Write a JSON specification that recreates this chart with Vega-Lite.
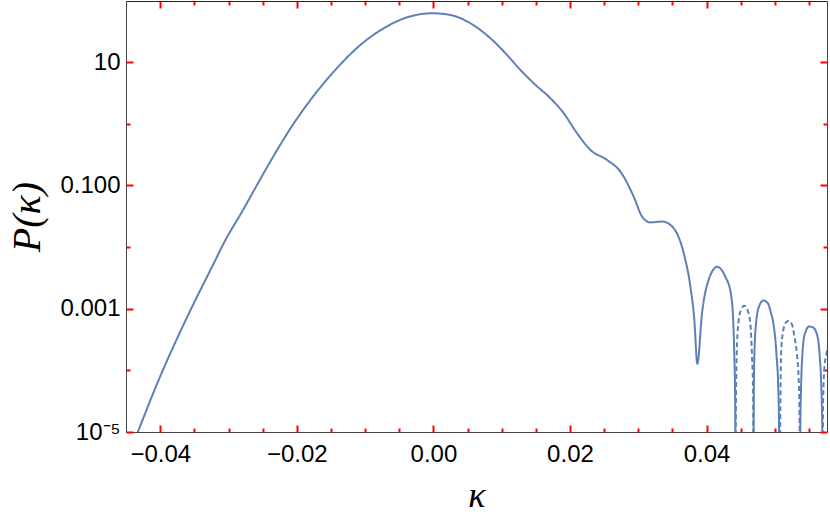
{
  "$schema": "https://vega.github.io/schema/vega-lite/v6.json",
  "width": 701,
  "height": 431,
  "autosize": {"type": "none"},
  "padding": {"left": 126, "top": 1, "right": 3, "bottom": 91},
  "background": "white",
  "view": {"stroke": null},
  "config": {
    "axis": {
      "labelFont": "Liberation Sans",
      "labelFontSize": 24,
      "labelColor": "black",
      "domainColor": "#444",
      "domainWidth": 1,
      "tickColor": "red",
      "tickWidth": 2,
      "grid": false,
      "labelOverlap": false,
      "labelFlush": false,
      "labelBound": false
    }
  },
  "data": {
    "values": [
      {"k": -0.0450, "P": 3.3e-6, "seg": 1, "kind": "solid"},
      {"k": -0.04329, "P": 1.0e-5, "seg": 1, "kind": "solid"},
      {"k": -0.04022, "P": 7.05e-5, "seg": 1, "kind": "solid"},
      {"k": -0.03729, "P": 3.78e-4, "seg": 1, "kind": "solid"},
      {"k": -0.03460, "P": 1.58e-3, "seg": 1, "kind": "solid"},
      {"k": -0.03240, "P": 4.84e-3, "seg": 1, "kind": "solid"},
      {"k": -0.03045, "P": 0.0131, "seg": 1, "kind": "solid"},
      {"k": -0.02801, "P": 0.0378, "seg": 1, "kind": "solid"},
      {"k": -0.02558, "P": 0.1146, "seg": 1, "kind": "solid"},
      {"k": -0.02288, "P": 0.378, "seg": 1, "kind": "solid"},
      {"k": -0.02094, "P": 0.843, "seg": 1, "kind": "solid"},
      {"k": -0.01801, "P": 2.44, "seg": 1, "kind": "solid"},
      {"k": -0.01460, "P": 7.03, "seg": 1, "kind": "solid"},
      {"k": -0.01069, "P": 19.1, "seg": 1, "kind": "solid"},
      {"k": -0.00728, "P": 35.6, "seg": 1, "kind": "solid"},
      {"k": -0.00385, "P": 53.6, "seg": 1, "kind": "solid"},
      {"k": -0.00019, "P": 62.3, "seg": 1, "kind": "solid"},
      {"k": 0.00249, "P": 58.5, "seg": 1, "kind": "solid"},
      {"k": 0.00542, "P": 42.9, "seg": 1, "kind": "solid"},
      {"k": 0.00835, "P": 24.5, "seg": 1, "kind": "solid"},
      {"k": 0.01079, "P": 13.1, "seg": 1, "kind": "solid"},
      {"k": 0.01274, "P": 7.50, "seg": 1, "kind": "solid"},
      {"k": 0.01469, "P": 4.56, "seg": 1, "kind": "solid"},
      {"k": 0.01713, "P": 2.61, "seg": 1, "kind": "solid"},
      {"k": 0.01908, "P": 1.49, "seg": 1, "kind": "solid"},
      {"k": 0.02104, "P": 0.705, "seg": 1, "kind": "solid"},
      {"k": 0.02299, "P": 0.378, "seg": 1, "kind": "solid"},
      {"k": 0.02543, "P": 0.260, "seg": 1, "kind": "solid"},
      {"k": 0.02738, "P": 0.168, "seg": 1, "kind": "solid"},
      {"k": 0.02933, "P": 0.0661, "seg": 1, "kind": "solid"},
      {"k": 0.03056, "P": 0.0313, "seg": 1, "kind": "solid"},
      {"k": 0.03177, "P": 0.0252, "seg": 1, "kind": "solid"},
      {"k": 0.03353, "P": 0.0260, "seg": 1, "kind": "solid"},
      {"k": 0.03518, "P": 0.0203, "seg": 1, "kind": "solid"},
      {"k": 0.03665, "P": 0.0080, "seg": 1, "kind": "solid"},
      {"k": 0.03763, "P": 0.0023, "seg": 1, "kind": "solid"},
      {"k": 0.03821, "P": 6.62e-4, "seg": 1, "kind": "solid"},
      {"k": 0.03865, "P": 1.28e-4, "seg": 1, "kind": "solid"},
      {"k": 0.03934, "P": 8.51e-4, "seg": 1, "kind": "solid"},
      {"k": 0.04031, "P": 2.95e-3, "seg": 1, "kind": "solid"},
      {"k": 0.04158, "P": 4.79e-3, "seg": 1, "kind": "solid"},
      {"k": 0.04275, "P": 3.30e-3, "seg": 1, "kind": "solid"},
      {"k": 0.04355, "P": 1.8e-3, "seg": 1, "kind": "solid"},
      {"k": 0.04392, "P": 5.85e-4, "seg": 1, "kind": "solid"},
      {"k": 0.04407, "P": 1.68e-4, "seg": 1, "kind": "solid"},
      {"k": 0.04417, "P": 4.85e-5, "seg": 1, "kind": "solid"},
      {"k": 0.04422, "P": 1.09e-5, "seg": 1, "kind": "solid"},
      {"k": 0.04425, "P": 1e-7, "seg": 1, "kind": "solid"},

      {"k": 0.04425, "P": 1e-7, "seg": 2, "kind": "dashed"},
      {"k": 0.04428, "P": 1.42e-5, "seg": 2, "kind": "dashed"},
      {"k": 0.04441, "P": 1.68e-4, "seg": 2, "kind": "dashed"},
      {"k": 0.04466, "P": 5.85e-4, "seg": 2, "kind": "dashed"},
      {"k": 0.04505, "P": 9.62e-4, "seg": 2, "kind": "dashed"},
      {"k": 0.04553, "P": 1.12e-3, "seg": 2, "kind": "dashed"},
      {"k": 0.04602, "P": 9.38e-4, "seg": 2, "kind": "dashed"},
      {"k": 0.04641, "P": 5.85e-4, "seg": 2, "kind": "dashed"},
      {"k": 0.04666, "P": 1.68e-4, "seg": 2, "kind": "dashed"},
      {"k": 0.04681, "P": 4.85e-5, "seg": 2, "kind": "dashed"},
      {"k": 0.04685, "P": 1.09e-5, "seg": 2, "kind": "dashed"},
      {"k": 0.04688, "P": 1e-7, "seg": 2, "kind": "dashed"},

      {"k": 0.04688, "P": 1e-7, "seg": 3, "kind": "solid"},
      {"k": 0.04690, "P": 1.42e-5, "seg": 3, "kind": "solid"},
      {"k": 0.04700, "P": 1.68e-4, "seg": 3, "kind": "solid"},
      {"k": 0.04725, "P": 5.85e-4, "seg": 3, "kind": "solid"},
      {"k": 0.04769, "P": 1.09e-3, "seg": 3, "kind": "solid"},
      {"k": 0.04832, "P": 1.36e-3, "seg": 3, "kind": "solid"},
      {"k": 0.04895, "P": 1.24e-3, "seg": 3, "kind": "solid"},
      {"k": 0.04944, "P": 8.51e-4, "seg": 3, "kind": "solid"},
      {"k": 0.04978, "P": 5.85e-4, "seg": 3, "kind": "solid"},
      {"k": 0.05026, "P": 1.68e-4, "seg": 3, "kind": "solid"},
      {"k": 0.05051, "P": 4.85e-5, "seg": 3, "kind": "solid"},
      {"k": 0.05062, "P": 1.09e-5, "seg": 3, "kind": "solid"},
      {"k": 0.05068, "P": 1e-7, "seg": 3, "kind": "solid"},

      {"k": 0.05068, "P": 1e-7, "seg": 4, "kind": "dashed"},
      {"k": 0.05081, "P": 2.77e-5, "seg": 4, "kind": "dashed"},
      {"k": 0.05091, "P": 1.79e-4, "seg": 4, "kind": "dashed"},
      {"k": 0.05120, "P": 4.28e-4, "seg": 4, "kind": "dashed"},
      {"k": 0.05168, "P": 6.08e-4, "seg": 4, "kind": "dashed"},
      {"k": 0.05208, "P": 6.38e-4, "seg": 4, "kind": "dashed"},
      {"k": 0.05256, "P": 5.36e-4, "seg": 4, "kind": "dashed"},
      {"k": 0.05290, "P": 3.34e-4, "seg": 4, "kind": "dashed"},
      {"k": 0.05325, "P": 1.79e-4, "seg": 4, "kind": "dashed"},
      {"k": 0.05354, "P": 5.16e-5, "seg": 4, "kind": "dashed"},
      {"k": 0.05363, "P": 1.09e-5, "seg": 4, "kind": "dashed"},
      {"k": 0.05367, "P": 1e-7, "seg": 4, "kind": "dashed"},

      {"k": 0.05367, "P": 1e-7, "seg": 5, "kind": "solid"},
      {"k": 0.05373, "P": 1.09e-5, "seg": 5, "kind": "solid"},
      {"k": 0.05384, "P": 5.16e-5, "seg": 5, "kind": "solid"},
      {"k": 0.05403, "P": 1.79e-4, "seg": 5, "kind": "solid"},
      {"k": 0.05436, "P": 3.78e-4, "seg": 5, "kind": "solid"},
      {"k": 0.05501, "P": 5.15e-4, "seg": 5, "kind": "solid"},
      {"k": 0.05559, "P": 4.97e-4, "seg": 5, "kind": "solid"},
      {"k": 0.05618, "P": 3.78e-4, "seg": 5, "kind": "solid"},
      {"k": 0.05656, "P": 1.79e-4, "seg": 5, "kind": "solid"},
      {"k": 0.05681, "P": 5.16e-5, "seg": 5, "kind": "solid"},
      {"k": 0.05695, "P": 1.09e-5, "seg": 5, "kind": "solid"},
      {"k": 0.05700, "P": 1e-7, "seg": 5, "kind": "solid"},

      {"k": 0.05700, "P": 1e-7, "seg": 6, "kind": "dashed"},
      {"k": 0.05706, "P": 2.77e-5, "seg": 6, "kind": "dashed"},
      {"k": 0.05729, "P": 1.23e-4, "seg": 6, "kind": "dashed"},
      {"k": 0.05754, "P": 1.79e-4, "seg": 6, "kind": "dashed"},
      {"k": 0.05790, "P": 3.0e-4, "seg": 6, "kind": "dashed"}
    ]
  },
  "encoding": {
    "x": {
      "field": "k",
      "type": "quantitative",
      "scale": {"domain": [-0.04502, 0.05764], "nice": false, "zero": false}
    },
    "y": {
      "field": "P",
      "type": "quantitative",
      "scale": {"type": "log", "domain": [0.00001, 98.6], "nice": false}
    }
  },
  "layer": [
    {
      "mark": {"type": "line", "clip": true, "color": "#5E81B5", "strokeWidth": 2, "interpolate": "monotone"},
      "encoding": {
        "detail": {"field": "seg", "type": "nominal"},
        "strokeDash": {
          "field": "kind",
          "type": "nominal",
          "scale": {"domain": ["solid", "dashed"], "range": [[1, 0], [5, 3]]},
          "legend": null
        },
        "x": {
          "field": "k",
          "type": "quantitative",
          "axis": {
            "orient": "bottom",
            "title": "κ",
            "titleFont": "Liberation Serif",
            "titleFontStyle": "italic",
            "titleFontWeight": "normal",
            "titleFontSize": 36,
            "titleColor": "black",
            "titlePadding": 12,
            "values": [-0.04, -0.02, 0, 0.02, 0.04],
            "format": ".2f",
            "ticks": false,
            "labelPadding": 10
          }
        },
        "y": {
          "field": "P",
          "type": "quantitative",
          "axis": {
            "orient": "left",
            "title": "P(κ)",
            "titleFont": "Liberation Serif",
            "titleFontStyle": "italic",
            "titleFontWeight": "normal",
            "titleFontSize": 40,
            "titleColor": "black",
            "titlePadding": 12,
            "values": [0.00001, 0.001, 0.1, 10],
            "labelExpr": "round(log(datum.value)/LN10) == 1 ? '10' : round(log(datum.value)/LN10) == -1 ? '0.100' : round(log(datum.value)/LN10) == -3 ? '0.001' : '10⁻⁵'",
            "ticks": false,
            "labelPadding": 6
          }
        }
      }
    },
    {
      "mark": {"type": "line", "strokeOpacity": 0, "clip": true},
      "encoding": {
        "detail": {"field": "seg", "type": "nominal"},
        "x": {
          "field": "k",
          "type": "quantitative",
          "axis": {"orient": "top", "title": null, "labels": false, "values": [-0.04, -0.02, 0, 0.02, 0.04], "tickSize": -7, "domainColor": "#222"}
        },
        "y": {
          "field": "P",
          "type": "quantitative",
          "axis": {"orient": "right", "title": null, "labels": false, "values": [0.00001, 0.001, 0.1, 10], "tickSize": -7}
        }
      }
    },
    {
      "mark": {"type": "line", "strokeOpacity": 0, "clip": true},
      "encoding": {
        "detail": {"field": "seg", "type": "nominal"},
        "x": {
          "field": "k",
          "type": "quantitative",
          "axis": {"orient": "bottom", "title": null, "labels": false, "domain": false, "values": [-0.04, -0.02, 0, 0.02, 0.04], "tickSize": -7}
        },
        "y": {
          "field": "P",
          "type": "quantitative",
          "axis": {"orient": "left", "title": null, "labels": false, "domain": false, "values": [0.00001, 0.001, 0.1, 10], "tickSize": -7}
        }
      }
    },
    {
      "mark": {"type": "line", "strokeOpacity": 0, "clip": true},
      "encoding": {
        "detail": {"field": "seg", "type": "nominal"},
        "x": {
          "field": "k",
          "type": "quantitative",
          "axis": {"orient": "bottom", "title": null, "labels": false, "domain": false, "values": [-0.035, -0.03, -0.025, -0.015, -0.01, -0.005, 0.005, 0.01, 0.015, 0.025, 0.03, 0.035, 0.045, 0.05, 0.055], "tickSize": -4}
        },
        "y": {
          "field": "P",
          "type": "quantitative",
          "axis": {"orient": "left", "title": null, "labels": false, "domain": false, "values": [0.0001, 0.01, 1], "tickSize": -4}
        }
      }
    },
    {
      "mark": {"type": "line", "strokeOpacity": 0, "clip": true},
      "encoding": {
        "detail": {"field": "seg", "type": "nominal"},
        "x": {
          "field": "k",
          "type": "quantitative",
          "axis": {"orient": "top", "title": null, "labels": false, "domain": false, "values": [-0.035, -0.03, -0.025, -0.015, -0.01, -0.005, 0.005, 0.01, 0.015, 0.025, 0.03, 0.035, 0.045, 0.05, 0.055], "tickSize": -4}
        },
        "y": {
          "field": "P",
          "type": "quantitative",
          "axis": {"orient": "right", "title": null, "labels": false, "domain": false, "values": [0.0001, 0.01, 1], "tickSize": -4}
        }
      }
    }
  ],
  "resolve": {"axis": {"x": "independent", "y": "independent"}}
}
